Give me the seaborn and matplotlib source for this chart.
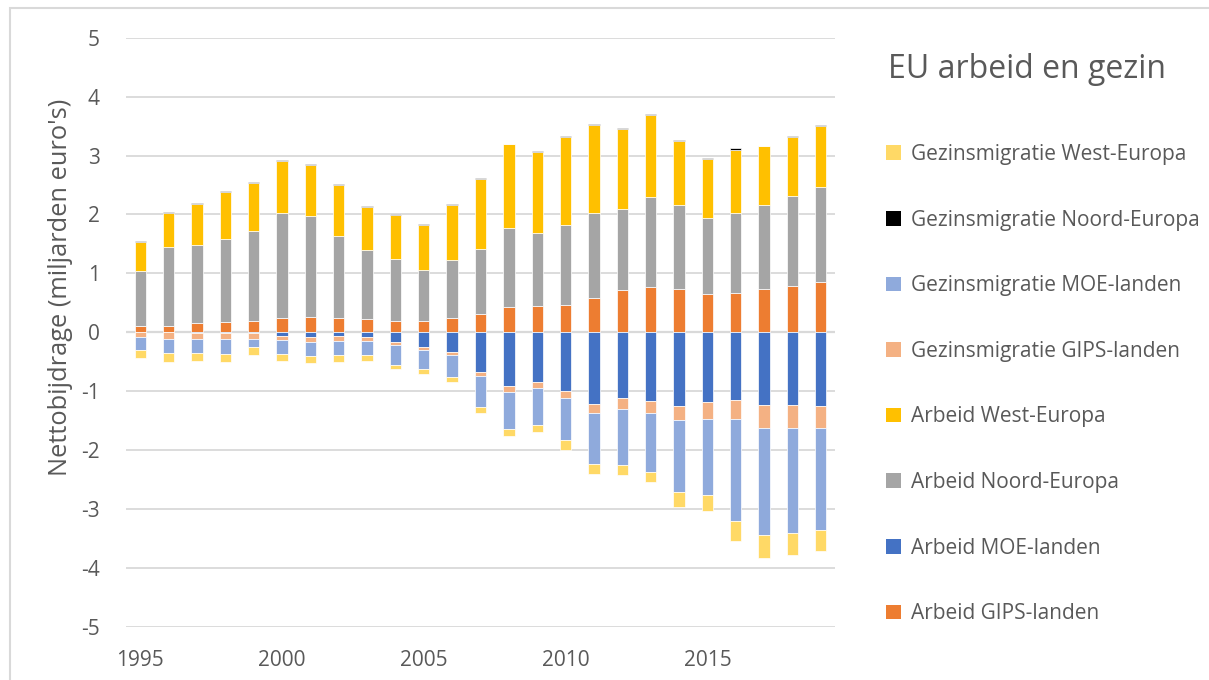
import matplotlib
matplotlib.use("Agg")
import matplotlib.pyplot as plt
from matplotlib.patches import Patch, Rectangle
import seaborn as sns
import numpy as np

years = list(range(1995, 2020))

# Positive contributions (mld euro)
arbeid_gips = [0.10, 0.11, 0.15, 0.18, 0.20, 0.24, 0.26, 0.25, 0.22, 0.20, 0.20, 0.25, 0.31,
               0.43, 0.45, 0.46, 0.58, 0.71, 0.77, 0.73, 0.65, 0.66, 0.74, 0.79, 0.85]
arbeid_noord = [0.94, 1.34, 1.33, 1.40, 1.52, 1.78, 1.72, 1.38, 1.17, 1.04, 0.85, 0.98, 1.11,
                1.34, 1.23, 1.36, 1.45, 1.39, 1.53, 1.43, 1.29, 1.36, 1.42, 1.52, 1.61]
arbeid_west = [0.49, 0.58, 0.70, 0.80, 0.82, 0.89, 0.86, 0.87, 0.74, 0.75, 0.78, 0.93, 1.19,
               1.42, 1.38, 1.50, 1.49, 1.36, 1.39, 1.08, 1.01, 1.08, 1.00, 1.01, 1.04]
gezin_noord = [0.02, 0.02, 0.02, 0.02, 0.02, 0.02, 0.02, 0.02, 0.01, 0.01, 0.01, 0.01, 0.01,
               0.01, 0.01, 0.01, 0.02, 0.01, 0.01, 0.03, 0.01, 0.03, 0.01, 0.02, 0.02]

# Negative contributions (mld euro)
arbeid_moe = [0.00, 0.00, -0.01, -0.02, -0.01, -0.06, -0.08, -0.06, -0.08, -0.17, -0.25, -0.34, -0.68,
              -0.91, -0.85, -0.99, -1.21, -1.12, -1.17, -1.25, -1.19, -1.15, -1.23, -1.24, -1.25]
gezin_gips = [-0.08, -0.11, -0.10, -0.10, -0.10, -0.07, -0.08, -0.08, -0.06, -0.05, -0.05, -0.05, -0.06,
              -0.10, -0.10, -0.12, -0.16, -0.19, -0.20, -0.24, -0.29, -0.32, -0.39, -0.38, -0.37]
gezin_moe = [-0.22, -0.24, -0.24, -0.24, -0.14, -0.23, -0.24, -0.25, -0.25, -0.33, -0.33, -0.37, -0.53,
             -0.63, -0.62, -0.72, -0.87, -0.95, -1.00, -1.22, -1.28, -1.73, -1.82, -1.78, -1.74]
gezin_west = [-0.14, -0.15, -0.14, -0.15, -0.14, -0.12, -0.12, -0.11, -0.09, -0.07, -0.07, -0.09, -0.10,
              -0.12, -0.13, -0.16, -0.17, -0.17, -0.17, -0.25, -0.27, -0.35, -0.39, -0.38, -0.36]

series = [
    ("Arbeid GIPS-landen", arbeid_gips, "#ED7D31"),
    ("Arbeid MOE-landen", arbeid_moe, "#4472C4"),
    ("Arbeid Noord-Europa", arbeid_noord, "#A5A5A5"),
    ("Arbeid West-Europa", arbeid_west, "#FFC000"),
    ("Gezinsmigratie GIPS-landen", gezin_gips, "#F4B183"),
    ("Gezinsmigratie MOE-landen", gezin_moe, "#8FAADC"),
    ("Gezinsmigratie Noord-Europa", gezin_noord, "#000000"),
    ("Gezinsmigratie West-Europa", gezin_west, "#FFD966"),
]

sns.set_theme(style="white")
plt.rcParams["font.family"] = ["Open Sans", "DejaVu Sans"]
plt.rcParams["axes.unicode_minus"] = False
text_col = "#595959"
grid_col = "#D9D9D9"

W, H = 1209, 680
fig = plt.figure(figsize=(W / 100, H / 100), dpi=100)
fig.patch.set_facecolor("white")

# chart frame
fig.add_artist(Rectangle((10 / W, -0.01), 1.2, (H - 8) / H + 0.01,
                         transform=fig.transFigure, fill=False,
                         edgecolor="#D9D9D9", linewidth=1.5))

ax = fig.add_axes([126 / W, (H - 626.8) / H, 709 / W, 589 / H])

pos_base = np.zeros(len(years))
neg_base = np.zeros(len(years))
for name, vals, col in series:
    v = np.array(vals, dtype=float)
    base = np.where(v >= 0, pos_base, neg_base)
    sns.barplot(x=years, y=v, bottom=base, color=col, width=0.4, ax=ax,
                edgecolor="white", linewidth=0.5, saturation=1, errorbar=None)
    pos_base = pos_base + np.where(v >= 0, v, 0)
    neg_base = neg_base + np.where(v < 0, v, 0)

ax.set_ylim(-5, 5)
ax.set_xlim(-0.5, len(years) - 0.5)
ax.set_yticks(range(-5, 6))
ax.yaxis.grid(True, color=grid_col, linewidth=1.3)
ax.axhline(0, color=grid_col, linewidth=1.6, zorder=0.5)
ax.set_axisbelow(True)
for s in ax.spines.values():
    s.set_visible(False)

tick_idx = [i for i, y in enumerate(years) if y % 5 == 0]
ax.set_xticks(tick_idx)
ax.set_xticklabels([str(years[i]) for i in tick_idx])
ax.tick_params(axis="x", length=0, pad=17, labelsize=15, labelcolor=text_col)
ax.tick_params(axis="y", length=0, pad=19, labelsize=15, labelcolor=text_col)
ax.set_xlabel("")
ax.set_ylabel("")

fig.text(61 / W, 1 - 287 / H, "Nettobijdrage (miljarden euro's)", rotation=90,
         fontsize=18.3, color=text_col, va="center", ha="center")

fig.text(888 / W, 1 - 69 / H, "EU arbeid en gezin", fontsize=23,
         color=text_col, va="center", ha="left")

legend_order = ["Gezinsmigratie West-Europa", "Gezinsmigratie Noord-Europa",
                "Gezinsmigratie MOE-landen", "Gezinsmigratie GIPS-landen",
                "Arbeid West-Europa", "Arbeid Noord-Europa",
                "Arbeid MOE-landen", "Arbeid GIPS-landen"]
colors = {n: c for n, _, c in series}
handles = [Patch(facecolor=colors[n], edgecolor="none", label=n) for n in legend_order]
fig.legend(handles=handles, loc="upper left", bbox_to_anchor=(886 / W, 1 - 144 / H),
           frameon=False, fontsize=15, labelcolor=text_col, labelspacing=2.14,
           handlelength=0.7, handleheight=0.7, handletextpad=0.5, borderpad=0,
           borderaxespad=0)

fig.savefig("out.png", dpi=100, facecolor="white")
